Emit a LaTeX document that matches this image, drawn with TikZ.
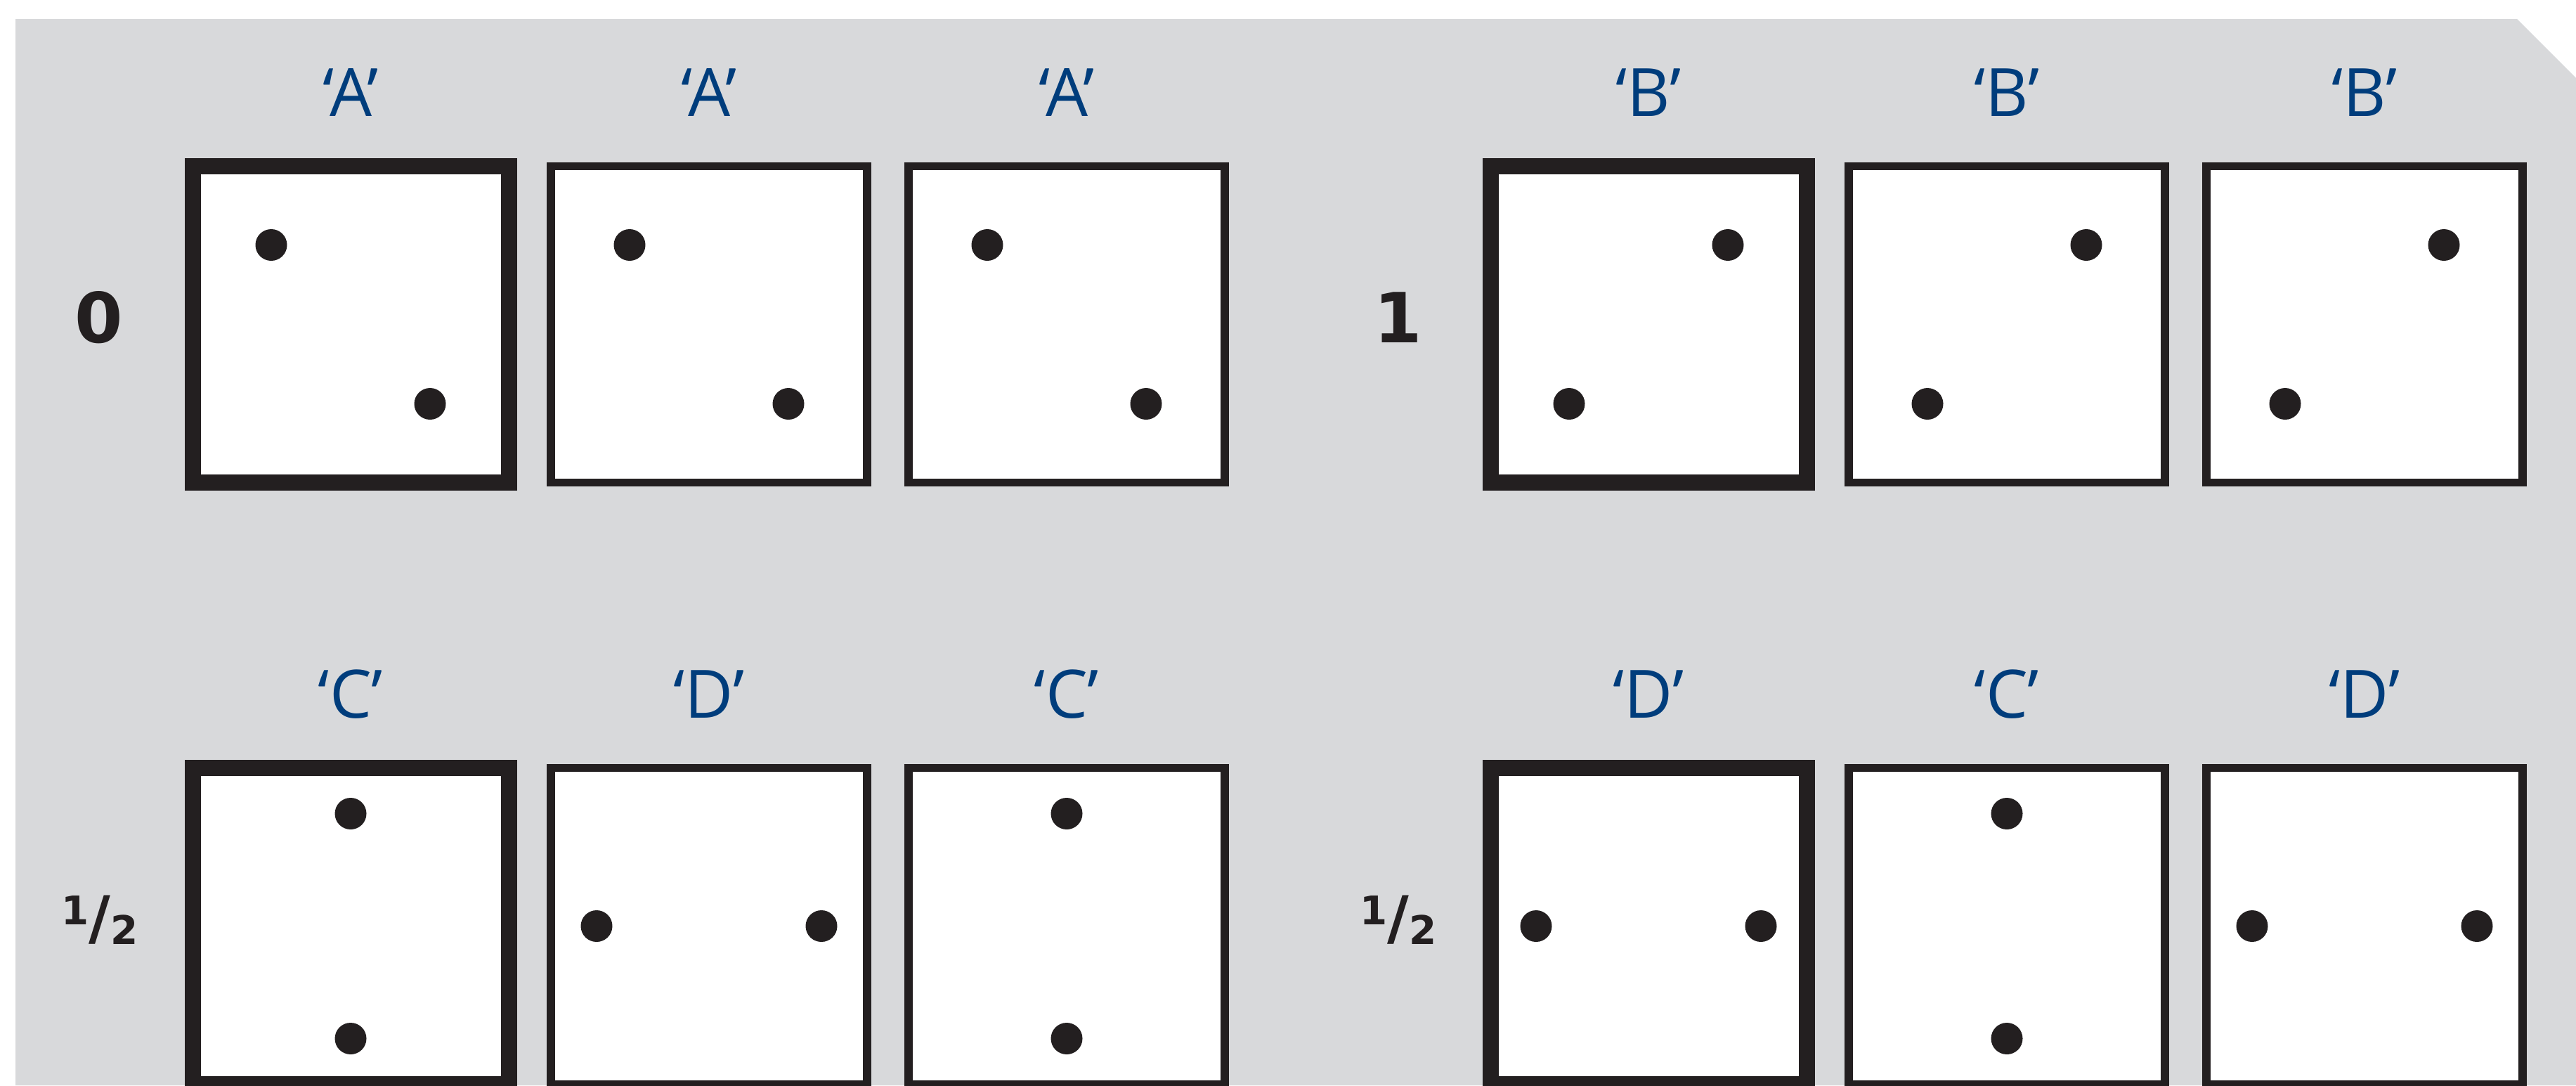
\documentclass[tikz,border=0pt]{standalone}
\usepackage{fontspec}
\setmainfont{Open Sans}
\newfontfamily\digitfont{DejaVu Sans}
\usetikzlibrary{calc, positioning}
\definecolor{panelgrey}{RGB}{216,217,219}
\definecolor{inkblack}{RGB}{35,31,32}
\definecolor{labelblue}{RGB}{0,61,124}
% one half, built tall like the printed fraction
\newcommand{\halfmark}{%
  {\fontsize{16}{16}\selectfont\raisebox{0.28cm}{1}}%
  {\fontsize{24}{24}\selectfont\raisebox{0.08cm}{/}}%
  {\fontsize{16}{16}\selectfont 2}}

\begin{document}
\begin{tikzpicture}[
  box/.style={draw=inkblack, fill=white, minimum size=4.5cm, inner sep=0pt},
  dotmark/.style={circle, fill=inkblack, minimum size=4.5mm, inner sep=0pt},
  tag/.style={text=labelblue, font=\fontsize{27}{30}\selectfont, anchor=base},
  rowtag/.style={text=inkblack, font=\digitfont\bfseries\fontsize{28}{30}\selectfont, anchor=base}
]
\def\rowone{-4.615}
\def\rowtwo{-13.175}
\def\tagup{2.965}

\useasboundingbox (0,0) rectangle (36.66,-15.44);
\fill[panelgrey] (0.22,-0.27) -- (35.82,-0.27) -- (36.66,-1.11)
    -- (36.66,-15.44) -- (0.22,-15.44) -- cycle;

% name / x / y / line width / label / first dot (second one mirrored)
\foreach \nm/\bx/\by/\lw/\lab/\dx/\dy in {
    b1/4.99/\rowone/2.3/A/-1.13/1.13,
    b2/10.09/\rowone/1.15/A/-1.13/1.13,
    b3/15.18/\rowone/1.15/A/-1.13/1.13,
    b4/23.46/\rowone/2.3/B/1.13/1.13,
    b5/28.56/\rowone/1.15/B/1.13/1.13,
    b6/33.65/\rowone/1.15/B/1.13/1.13,
    b7/4.99/\rowtwo/2.3/C/0/1.6,
    b8/10.09/\rowtwo/1.15/D/-1.6/0,
    b9/15.18/\rowtwo/1.15/C/0/1.6,
    b10/23.46/\rowtwo/2.3/D/-1.6/0,
    b11/28.56/\rowtwo/1.15/C/0/1.6,
    b12/33.65/\rowtwo/1.15/D/-1.6/0}{
  \node[box, line width=\lw mm] (\nm) at (\bx,\by) {};
  \node[dotmark] (\nm-p) at ($(\nm.center)+(\dx,\dy)$) {};
  \node[dotmark] (\nm-q) at ($(\nm.center)-(\dx,\dy)$) {};
  \node[tag] (\nm-tag) at ($(\nm.center)+(0,\tagup)$) {‘\lab’};
}

\node[rowtag] (zero) at (1.41,-4.87) {0};
\node[rowtag] (one) at (19.90,-4.87) {1};
\node[rowtag] (halfA) at (1.42,-13.43) {\halfmark};
\node[rowtag] (halfB) at (19.90,-13.43) {\halfmark};
\end{tikzpicture}
\end{document}
